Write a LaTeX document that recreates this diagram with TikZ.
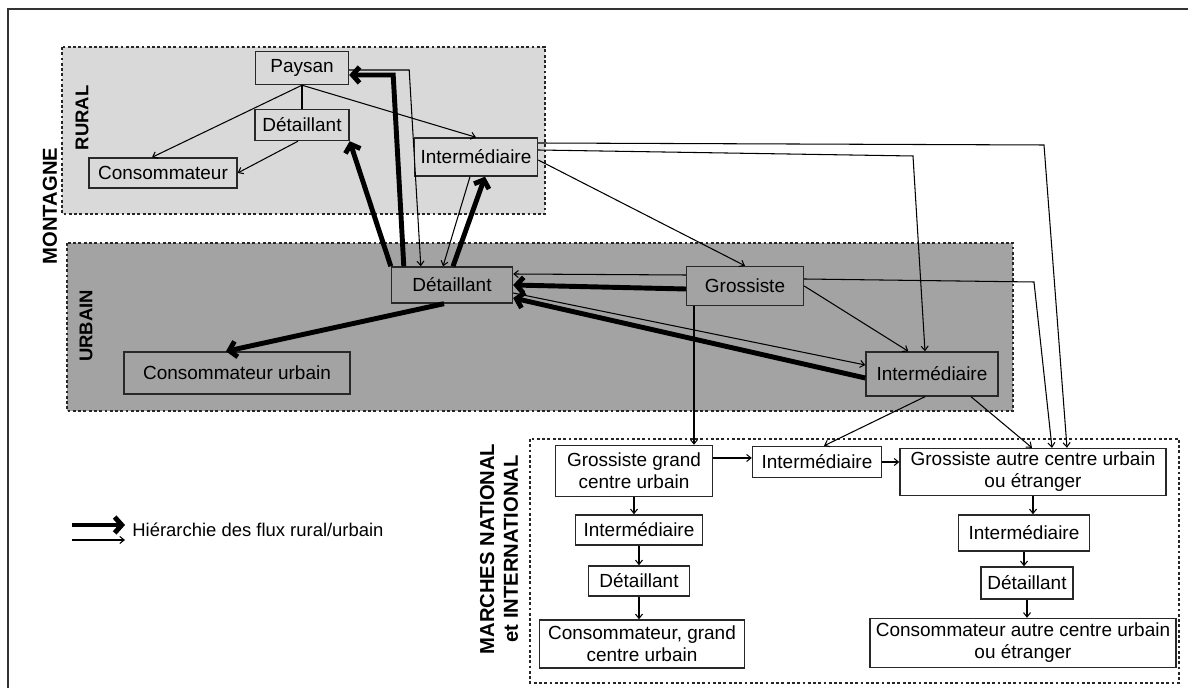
\documentclass[tikz,border=0pt]{standalone}
\usepackage{fontspec}
\setmainfont{Liberation Sans}
\usetikzlibrary{arrows.meta, calc}
\definecolor{ruralgray}{RGB}{217,217,217}
\definecolor{urbangray}{RGB}{163,163,163}
\definecolor{boxline}{RGB}{40,40,40}

\begin{document}
\begin{tikzpicture}[x=0.02cm, y=-0.02cm,
  box/.style={draw=boxline, line width=0.8pt, inner sep=0pt, align=center, font=\fontsize{10.8}{12.6}\selectfont},
  zone/.style={draw=black!85, line width=0.9pt, dash pattern=on 1.6pt off 1.4pt},
  zonelabel/.style={rotate=90, font=\bfseries\fontsize{10.5}{12}\selectfont},
  minorflow/.style={draw=black, line width=0.6pt, -{Straight Barb[length=2.5pt,width=4pt]}},
  majorflow/.style={draw=black, line width=2.8pt, -{Straight Barb[length=4pt,width=9pt]}}]
  \useasboundingbox (0,0) rectangle (1188,688);

  % Frame
  \draw[line width=1.2pt, black!80] (8,700) -- (8,9) -- (1200,9);

  % Zones
  \draw[zone, fill=ruralgray] (62,47) rectangle (545,214);
  \draw[zone, fill=urbangray] (67,243) rectangle (1013,411);
  \draw[zone] (530,439) rectangle (1179,683);

  \node[zonelabel, font=\bfseries\fontsize{11.5}{13}\selectfont] (montagne) at (50,206) {MONTAGNE};
  \node[zonelabel, font=\bfseries\fontsize{10.5}{12}\selectfont] (rural) at (82,118) {RURAL};
  \node[zonelabel] (urbain) at (86,326) {URBAIN};
  \node[zonelabel, align=center, font=\bfseries\fontsize{11.5}{13.6}\selectfont] (marches) at (499,549) {MARCHES NATIONAL\\et INTERNATIONAL};

  % Rural
  \node[box, minimum width=1.86cm, minimum height=0.66cm] (paysan) at (302,68) {Paysan};
  \node[box, minimum width=1.88cm, minimum height=0.62cm] (detR) at (302,125) {Détaillant};
  \node[box, minimum width=2.96cm, minimum height=0.60cm] (consR) at (163,173) {Consommateur};
  \node[box, minimum width=2.46cm, minimum height=0.76cm] (interR) at (476,157) {Intermédiaire};

  % Urbain
  \node[box, minimum width=2.42cm, minimum height=0.72cm] (detU) at (452,285) {Détaillant};
  \node[box, minimum width=4.52cm, minimum height=0.84cm] (consU) at (237,373) {Consommateur urbain};
  \node[box, minimum width=2.34cm, minimum height=0.78cm] (gros) at (745,286) {Grossiste};
  \node[box, minimum width=2.64cm, minimum height=0.88cm] (interU) at (932,374) {Intermédiaire};

  % Marches
  \node[box, fill=white, minimum width=3.14cm, minimum height=1.02cm] (grosG) at (634,471) {Grossiste grand\\centre urbain};
  \node[box, fill=white, minimum width=2.58cm, minimum height=0.62cm] (interM) at (817,462) {Intermédiaire};
  \node[box, fill=white, minimum width=5.32cm, minimum height=0.94cm] (grosA) at (1033,472) {Grossiste autre centre urbain\\ou étranger};
  \node[box, fill=white, minimum width=2.54cm, minimum height=0.60cm] (interG) at (639,530) {Intermédiaire};
  \node[box, fill=white, minimum width=2.02cm, minimum height=0.60cm] (detG) at (639,581) {Détaillant};
  \node[box, fill=white, minimum width=4.10cm, minimum height=0.96cm] (consG) at (642,644) {Consommateur, grand\\centre urbain};
  \node[box, fill=white, minimum width=2.62cm, minimum height=0.72cm] (interA) at (1024,533) {Intermédiaire};
  \node[box, fill=white, minimum width=1.84cm, minimum height=0.64cm] (detA) at (1027,583) {Détaillant};
  \node[box, fill=white, minimum width=6.12cm, minimum height=0.98cm] (consA) at (1023,643) {Consommateur autre centre urbain\\ou étranger};

  % bends
  \coordinate (bendA) at (1044,145);
  \coordinate (bendB) at (913,156);
  \coordinate (bendC) at (1034,282);

  % Flows inside rural
  \draw[minorflow] (paysan.south) -- ($(consR.north)+(-11,0)$);
  \draw[line width=0.6pt] (paysan.south) -- (detR.north);
  \draw[minorflow] (paysan.south) -- (interR.north);
  \draw[minorflow] ($(detR.south)+(-4,0)$) -- (consR.east);

  % Urbain -> rural
  \draw[majorflow] (detU.north west) -- (detR.south east);
  \draw[majorflow] ($(detU.north west)+(13,0)$) -- ($(paysan.east)+(44,7)$) -- ($(paysan.east)+(0,7)$);
  \draw[minorflow] ($(paysan.east)+(0,2)$) -- ($(paysan.east)+(60,2)$) -- ($(detU.north west)+(30,0)$);
  \draw[minorflow] ($(interR.south)+(-6,0)$) -- ($(detU.north)+(-9,0)$);
  \draw[majorflow] ($(detU.north)+(1,0)$) -- ($(interR.south)+(9,0)$);

  % Intermediaire rural out
  \draw[minorflow] ($(interR.east)+(0,3)$) -- (gros.north);
  \draw[minorflow] ($(interR.east)+(0,-14)$) -- (bendA) -- ($(grosA.north)+(34,0)$);
  \draw[minorflow] ($(interR.east)+(0,-7)$) -- (bendB) -- ($(interU.north)+(-7,0)$);

  % Urbain
  \draw[minorflow] ($(gros.east)+(0,-7)$) -- (bendC) -- ($(grosA.north)+(19,0)$);
  \draw[minorflow] (gros.east) -- ($(interU.north west)+(43,0)$);
  \draw[minorflow] ($(gros.south)+(-51,0)$) -- ($(grosG.north)+(60,0)$);
  \draw[minorflow] ($(gros.west)+(0,-11)$) -- ($(detU.east)+(0,-11)$);
  \draw[majorflow] ($(gros.west)+(0,3)$) -- (detU.east);
  \draw[minorflow] ($(detU.east)+(0,8)$) -- ($(interU.west)+(0,-9)$);
  \draw[majorflow] ($(interU.west)+(0,4)$) -- ($(detU.east)+(0,13)$);
  \draw[majorflow] ($(detU.south)+(-8,0)$) -- ($(consU.north)+(-11,0)$);

  % Marches
  \draw[minorflow] ($(interU.south)+(-7,0)$) -- ($(interM.north)+(7,0)$);
  \draw[minorflow] ($(interU.south)+(39,0)$) -- ($(grosA.north)+(-1,0)$);
  \draw[minorflow] ($(grosG.east)+(0,-13)$) -- ($(interM.west)+(0,-4)$);
  \draw[minorflow] (interM.east) -- ($(grosA.west)+(0,-10)$);
  \draw[minorflow] (grosG.south) -- (grosG.south |- interG.north);
  \draw[minorflow] (interG.south) -- (interG.south |- detG.north);
  \draw[minorflow] (detG.south) -- (detG.south |- consG.north);
  \draw[minorflow] (grosA.south) -- (grosA.south |- interA.north);
  \draw[minorflow] (interA.south) -- (interA.south |- detA.north);
  \draw[minorflow] (detA.south) -- (detA.south |- consA.north);

  % Legend
  \coordinate (legA) at (72,525);
  \coordinate (legB) at (72,540);
  \draw[majorflow] (legA) -- ++(53,0);
  \draw[minorflow] (legB) -- ++(53,0);
  \node[anchor=west, inner sep=0pt, font=\fontsize{10.5}{12}\selectfont] (legtext) at (132,530) {Hiérarchie des flux rural/urbain};
\end{tikzpicture}
\end{document}
